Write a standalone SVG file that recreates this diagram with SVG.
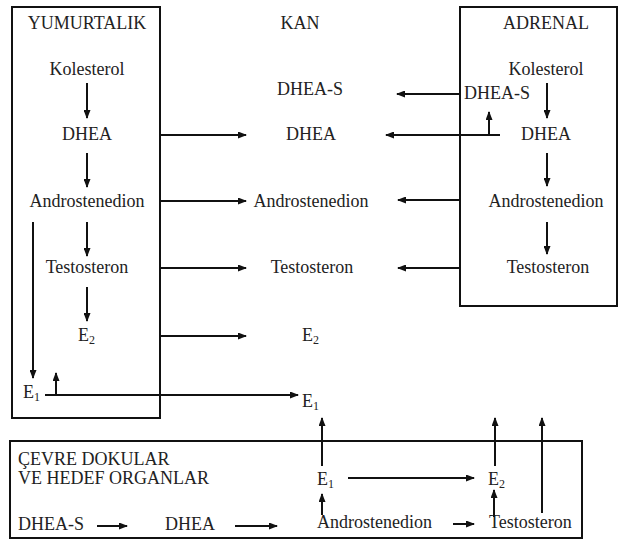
<svg xmlns="http://www.w3.org/2000/svg" width="621" height="540" viewBox="0 0 621 540" font-family="'Liberation Serif', Tinos, 'Times New Roman', 'DejaVu Serif', serif">
<style>
text{font-family:'Liberation Serif', Tinos, 'Times New Roman', 'DejaVu Serif', serif;font-size:18px;fill:#222}
.c{text-anchor:middle}
.s{font-size:12px}
.box{fill:none;stroke:#111;stroke-width:2}
.ln{stroke:#111;stroke-width:2;fill:none}
.a{marker-end:url(#ah)}
</style>
<defs>
<marker id="ah" markerUnits="userSpaceOnUse" markerWidth="9" markerHeight="7" refX="8" refY="3.5" orient="auto">
<path d="M0,0 L9,3.5 L0,7 z" fill="#111"/>
</marker>
</defs>
<rect width="621" height="540" fill="#fff"/>
<g id="boxes">
<rect id="yumurtalik-box" class="box" x="12" y="7" width="148" height="411"/>
<rect id="adrenal-box" class="box" x="460" y="7" width="157" height="299"/>
<rect id="cevre-box" class="box" x="10" y="441" width="572" height="97"/>
</g>
<g id="titles">
<text class="c" x="87" y="29">YUMURTALIK</text>
<text class="c" x="300" y="29">KAN</text>
<text class="c" x="546" y="29">ADRENAL</text>
<text x="18" y="465">ÇEVRE DOKULAR</text>
<text x="18" y="484">VE HEDEF ORGANLAR</text>
</g>
<g id="ovary-nodes">
<g id="o-kol"><text class="c" x="87" y="75">Kolesterol</text></g>
<g id="o-dhea"><text class="c" x="87" y="140">DHEA</text></g>
<g id="o-andro"><text class="c" x="87" y="207">Androstenedion</text></g>
<g id="o-testo"><text class="c" x="87" y="273">Testosteron</text></g>
<g id="o-e2"><text x="78" y="341">E<tspan class="s" dy="3">2</tspan></text></g>
<g id="o-e1"><text x="23" y="398">E<tspan class="s" dy="3">1</tspan></text></g>
</g>
<g id="blood-nodes">
<g id="k-dheas"><text class="c" x="310" y="95">DHEA-S</text></g>
<g id="k-dhea"><text class="c" x="311" y="140">DHEA</text></g>
<g id="k-andro"><text class="c" x="311" y="207">Androstenedion</text></g>
<g id="k-testo"><text class="c" x="312" y="273">Testosteron</text></g>
<g id="k-e2"><text x="302" y="341">E<tspan class="s" dy="3">2</tspan></text></g>
<g id="k-e1"><text x="302" y="407">E<tspan class="s" dy="3">1</tspan></text></g>
</g>
<g id="adrenal-nodes">
<g id="a-kol"><text class="c" x="546" y="75">Kolesterol</text></g>
<g id="a-dheas"><text x="464" y="99">DHEA-S</text></g>
<g id="a-dhea"><text class="c" x="546" y="140">DHEA</text></g>
<g id="a-andro"><text class="c" x="546" y="207">Androstenedion</text></g>
<g id="a-testo"><text class="c" x="548" y="273">Testosteron</text></g>
</g>
<g id="tissue-nodes">
<g id="t-dheas"><text x="18" y="530">DHEA-S</text></g>
<g id="t-dhea"><text x="165" y="530">DHEA</text></g>
<g id="t-andro"><text x="317" y="528">Androstenedion</text></g>
<g id="t-testo"><text x="489" y="528">Testosteron</text></g>
<g id="t-e1"><text x="317" y="485">E<tspan class="s" dy="3">1</tspan></text></g>
<g id="t-e2"><text x="488" y="485">E<tspan class="s" dy="3">2</tspan></text></g>
</g>
<g id="connectors" class="ln">
<line class="a" x1="87" y1="83" x2="87" y2="118"/>
<line class="a" x1="87" y1="153" x2="87" y2="187"/>
<line class="a" x1="87" y1="222" x2="87" y2="256"/>
<line class="a" x1="87" y1="287" x2="87" y2="321"/>
<line class="a" x1="33" y1="222" x2="33" y2="378"/>
<line class="a" x1="45" y1="395" x2="298" y2="395"/>
<line class="a" x1="56" y1="395" x2="56" y2="373"/>
<line class="a" x1="160" y1="135" x2="246" y2="135"/>
<line class="a" x1="160" y1="201" x2="246" y2="201"/>
<line class="a" x1="160" y1="268" x2="246" y2="268"/>
<line class="a" x1="160" y1="336" x2="246" y2="336"/>
<line class="a" x1="460" y1="94" x2="397" y2="94"/>
<line class="a" x1="500" y1="135" x2="386" y2="135"/>
<line class="a" x1="489" y1="135" x2="489" y2="112"/>
<line class="a" x1="460" y1="200" x2="398" y2="200"/>
<line class="a" x1="460" y1="268" x2="398" y2="268"/>
<line class="a" x1="547" y1="83" x2="547" y2="118"/>
<line class="a" x1="547" y1="153" x2="547" y2="186"/>
<line class="a" x1="547" y1="222" x2="547" y2="254"/>
<line class="a" x1="97" y1="526" x2="127" y2="526"/>
<line class="a" x1="235" y1="526" x2="277" y2="526"/>
<line class="a" x1="453" y1="524" x2="474" y2="524"/>
<line class="a" x1="322" y1="515" x2="322" y2="494"/>
<line class="a" x1="322" y1="466" x2="322" y2="418"/>
<line class="a" x1="348" y1="478" x2="474" y2="478"/>
<line class="a" x1="494" y1="517" x2="494" y2="490"/>
<line class="a" x1="495" y1="466" x2="495" y2="418"/>
<line class="a" x1="542" y1="513" x2="542" y2="418"/>
</g>
</svg>
